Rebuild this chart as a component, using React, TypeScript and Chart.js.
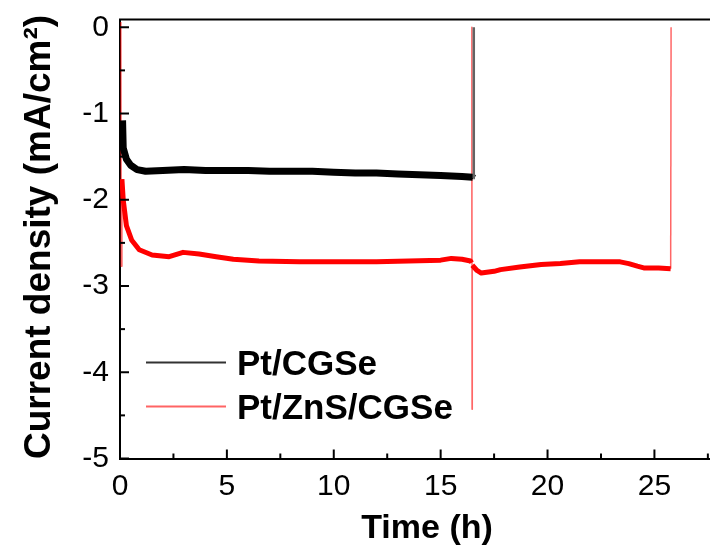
import React, { useEffect, useRef } from "react";
import { Chart, registerables } from "chart.js";

Chart.register(...registerables);

// ---- data ----
const SERIES_LABELS = ["Pt/CGSe", "Pt/ZnS/CGSe"];

const cgseTime = [0.12, 0.15, 0.3, 0.5, 0.8, 1.2, 2, 3, 4, 5, 6, 7, 8, 9, 10, 11, 12, 13, 14, 15, 16, 16.5, 16.54, 16.55];
const cgseCurrent = [-1.08, -1.4, -1.53, -1.6, -1.65, -1.67, -1.66, -1.65, -1.66, -1.66, -1.66, -1.67, -1.67, -1.67, -1.68, -1.69, -1.69, -1.7, -1.71, -1.72, -1.73, -1.74, -1.75, 0.0];

const znsTime = [0.04, 0.06, 0.09, 0.15, 0.3, 0.55, 0.9, 1.5, 2.3, 2.95, 3.7, 4.5, 5.3, 6.5, 8.4, 10, 12, 13.5, 15, 15.5, 16.0, 16.4, 16.45, 16.46, 16.47, 16.48, 16.7, 16.9, 17.5, 17.8, 18.7, 19.7, 20.6, 21.5, 22.4, 23.4, 23.8, 24.2, 24.5, 25.2, 25.76, 25.78];
const znsCurrent = [0.06, -2.77, -1.76, -2.0, -2.3, -2.47, -2.58, -2.64, -2.66, -2.61, -2.63, -2.66, -2.69, -2.71, -2.72, -2.72, -2.72, -2.71, -2.7, -2.68, -2.69, -2.71, -2.73, 0.0, -4.43, -2.76, -2.82, -2.85, -2.83, -2.81, -2.78, -2.75, -2.74, -2.72, -2.72, -2.72, -2.74, -2.77, -2.79, -2.79, -2.8, 0.0];

const xTickValues = [0, 5, 10, 15, 20, 25];
const yTickValues = [0, -1, -2, -3, -4, -5];
const X_RANGE = [0, 27.6];
const Y_RANGE = [-5, 0.09];
const X_TITLE = "Time (h)";
const Y_TITLE = "Current density (mA/cm\u00B2)";

const FAMILY = "'Liberation Sans', Arial, Helvetica, sans-serif";

const decorPlugin = {
  id: "decor",
  afterDraw(chart: any) {
    const { ctx, chartArea: a } = chart;
    const xs = chart.scales.x;
    const ys = chart.scales.y;
    ctx.save();
    ctx.strokeStyle = "#000";
    ctx.lineWidth = 2;
    // top frame
    ctx.beginPath();
    ctx.moveTo(a.left - 1, a.top);
    ctx.lineTo(a.right, a.top);
    ctx.stroke();

    // inward ticks on x axis
    const xStep = xTickValues[1] - xTickValues[0];
    const drawX = (v: number, len: number) => {
      const px = xs.getPixelForValue(v);
      if (px < a.left - 0.5 || px > a.right + 0.5) return;
      ctx.beginPath();
      ctx.moveTo(px, a.bottom);
      ctx.lineTo(px, a.bottom - len);
      ctx.stroke();
    };
    xTickValues.forEach((v) => {
      drawX(v, 9);
      drawX(v + xStep / 2, 5);
    });
    // inward ticks on y axis
    const yStep = yTickValues[0] - yTickValues[1];
    const drawY = (v: number, len: number) => {
      const py = ys.getPixelForValue(v);
      if (py < a.top - 0.5 || py > a.bottom + 0.5) return;
      ctx.beginPath();
      ctx.moveTo(a.left, py);
      ctx.lineTo(a.left + len, py);
      ctx.stroke();
    };
    yTickValues.forEach((v) => {
      drawY(v, 9);
      drawY(v - yStep / 2, 5);
    });

    // axis titles
    ctx.fillStyle = "#000";
    ctx.font = `bold 34px ${FAMILY}`;
    ctx.textAlign = "center";
    ctx.textBaseline = "alphabetic";
    ctx.fillText(X_TITLE, 427, 538);

    ctx.save();
    ctx.font = `bold 37px ${FAMILY}`;
    ctx.translate(50, 237);
    ctx.rotate(-Math.PI / 2);
    ctx.fillText(Y_TITLE, 0, 0);
    ctx.restore();

    // legend
    const legendLineY = [362.5, 406.5];
    const legendTextY = [375, 419];
    const legendColors = ["rgb(50,50,50)", "rgb(255,100,100)"];
    ctx.font = `bold 35px ${FAMILY}`;
    ctx.textAlign = "left";
    chart.data.datasets.forEach((ds: any, i: number) => {
      ctx.strokeStyle = legendColors[i];
      ctx.lineWidth = 2;
      ctx.beginPath();
      ctx.moveTo(146, legendLineY[i]);
      ctx.lineTo(226, legendLineY[i]);
      ctx.stroke();
      ctx.fillStyle = "#000";
      ctx.fillText(ds.label, 237, legendTextY[i]);
    });
    ctx.restore();
  },
};

function toPoints(t: number[], v: number[]) {
  return t.map((x, i) => ({ x, y: v[i] }));
}

const isJump = (c: any) => Math.abs(c.p0.parsed.y - c.p1.parsed.y) > 0.5;

export default function App() {
  const canvasRef = useRef<HTMLCanvasElement | null>(null);

  useEffect(() => {
    if (!canvasRef.current) return;
    const chart = new Chart(canvasRef.current, {
      type: "line",
      data: {
        datasets: [
          {
            label: SERIES_LABELS[0],
            data: toPoints(cgseTime, cgseCurrent),
            borderColor: "#000",
            borderWidth: 7,
            pointRadius: 0,
            tension: 0,
            borderJoinStyle: "round",
            segment: {
              borderWidth: (c: any) => (isJump(c) ? 2.5 : 7),
              borderColor: (c: any) => (isJump(c) ? "rgb(100,100,100)" : "#000"),
            },
          },
          {
            label: SERIES_LABELS[1],
            data: toPoints(znsTime, znsCurrent),
            borderColor: "#ff0000",
            borderWidth: 5,
            pointRadius: 0,
            tension: 0,
            borderJoinStyle: "round",
            segment: {
              borderWidth: (c: any) => (isJump(c) ? 1.5 : 5),
              borderColor: (c: any) => (isJump(c) ? "rgba(255,0,0,0.6)" : "#ff0000"),
            },
          },
        ],
      },
      options: {
        responsive: false,
        animation: false,
        layout: { padding: { top: 19.5, right: 0, left: 0, bottom: 0 } },
        plugins: { legend: { display: false }, tooltip: { enabled: false } },
        scales: {
          x: {
            type: "linear",
            min: X_RANGE[0],
            max: X_RANGE[1],
            afterFit: (s: any) => {
              s.height = 89.5;
              s.paddingLeft = 0;
              s.paddingRight = 0;
            },
            afterBuildTicks: (s: any) => {
              s.ticks = xTickValues.map((value) => ({ value }));
            },
            grid: { display: false, drawTicks: false },
            border: { display: true, color: "#000", width: 2 },
            ticks: {
              font: { family: FAMILY, size: 30 },
              color: "#000",
              padding: 10,
              maxRotation: 0,
              autoSkip: false,
            },
          },
          y: {
            type: "linear",
            min: Y_RANGE[0],
            max: Y_RANGE[1],
            afterFit: (s: any) => {
              s.width = 120;
              s.paddingTop = 0;
              s.paddingBottom = 0;
            },
            afterBuildTicks: (s: any) => {
              s.ticks = yTickValues.map((value) => ({ value }));
            },
            grid: { display: false, drawTicks: false },
            border: { display: true, color: "#000", width: 2 },
            ticks: {
              font: { family: FAMILY, size: 30 },
              color: "#000",
              padding: 11,
              autoSkip: false,
            },
          },
        },
      },
      plugins: [decorPlugin],
    } as any);
    return () => chart.destroy();
  }, []);

  return (
    <div style={{ position: "absolute", left: 0, top: 0, width: 710, height: 548, background: "#fff" }}>
      <canvas ref={canvasRef} width={710} height={548} style={{ display: "block" }} />
    </div>
  );
}
